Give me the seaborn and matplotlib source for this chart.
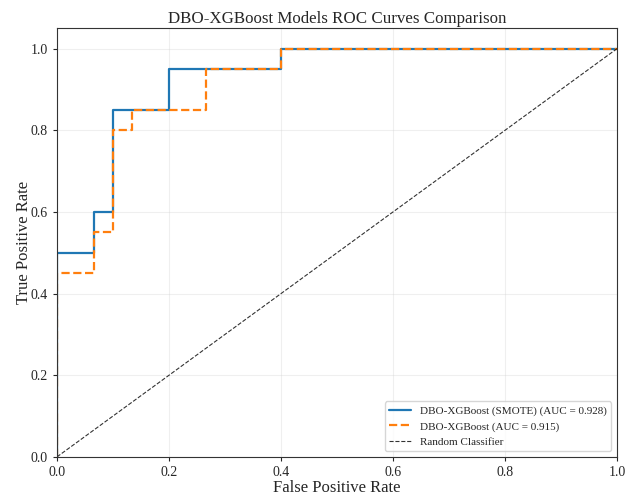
import matplotlib; matplotlib.use("Agg")
import numpy as np
import pandas as pd
import matplotlib.pyplot as plt
import seaborn as sns

# ROC points
fpr_smote = [0.0, 0.0, 0.0667, 0.0667, 0.1, 0.1, 0.2, 0.2, 0.4, 0.4, 1.0]
tpr_smote = [0.0, 0.5, 0.5, 0.6, 0.6, 0.85, 0.85, 0.95, 0.95, 1.0, 1.0]
fpr_base = [0.0, 0.0, 0.0667, 0.0667, 0.1, 0.1, 0.1333, 0.1333, 0.2667, 0.2667, 0.4, 0.4, 1.0]
tpr_base = [0.0, 0.45, 0.45, 0.55, 0.55, 0.8, 0.8, 0.85, 0.85, 0.95, 0.95, 1.0, 1.0]
auc_smote = 0.928
auc_base = 0.915

sns.set_style("white")
plt.rcParams["font.family"] = ["Liberation Serif", "DejaVu Serif"]

fig, ax = plt.subplots(figsize=(6.29, 4.95), dpi=100)
fig.subplots_adjust(left=0.0906, right=0.981, top=0.943, bottom=0.077)

d1 = pd.DataFrame({"fpr": fpr_smote, "tpr": tpr_smote})
d2 = pd.DataFrame({"fpr": fpr_base, "tpr": tpr_base})
sns.lineplot(data=d1, x="fpr", y="tpr", sort=False, estimator=None, ax=ax,
             color="#1f77b4", lw=1.6,
             label=f"DBO-XGBoost (SMOTE) (AUC = {auc_smote:.3f})")
sns.lineplot(data=d2, x="fpr", y="tpr", sort=False, estimator=None, ax=ax,
             color="#ff7f0e", lw=1.6, linestyle="--",
             label=f"DBO-XGBoost (AUC = {auc_base:.3f})")
ax.plot([0, 1], [0, 1], "k--", lw=0.8, alpha=0.8, label="Random Classifier")

ax.set_xlim(0, 1)
ax.set_ylim(0, 1.05)
ax.grid(True, alpha=0.3)
ax.tick_params(axis="both", labelsize=10, direction="out", length=3, left=True, bottom=True)
ax.set_xlabel("False Positive Rate", fontsize=12, labelpad=1)
ax.set_ylabel("True Positive Rate", fontsize=12, labelpad=-1)
ax.set_title("DBO-XGBoost Models ROC Curves Comparison", fontsize=12.2, pad=4)
ax.legend(loc="lower right", fontsize=8)
for s in ax.spines.values():
    s.set_color("#333333")

fig.savefig("out.png", dpi=100)
